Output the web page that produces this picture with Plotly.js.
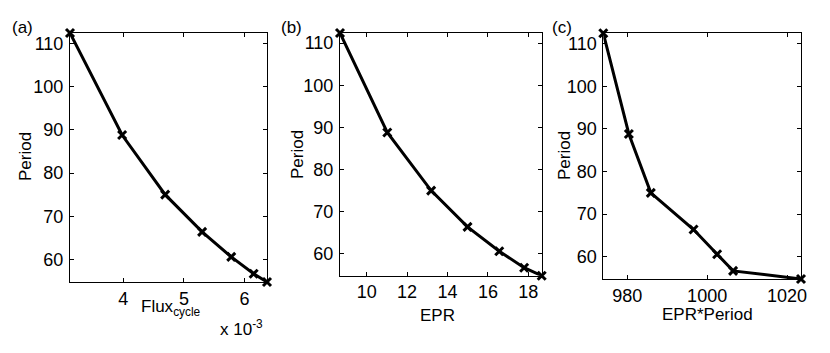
<!DOCTYPE html>
<html>
<head>
<meta charset="utf-8">
<script src="https://cdn.plot.ly/plotly-3.0.1.min.js"></script>
<style>
  html, body { margin: 0; padding: 0; background: #fff; }
  #fig { width: 830px; height: 353px; }
</style>
</head>
<body>
<div id="fig"></div>
<script>
// values
var period    = [112.4, 88.8, 75.0, 66.4, 60.6, 56.7, 54.8];
var fluxCycle = [0.00312, 0.00398, 0.00469, 0.00530, 0.00578, 0.00615, 0.00637];
var epr       = [8.68, 11.02, 13.19, 14.99, 16.56, 17.79, 18.66];
var eprPeriod = [974.0, 980.4, 985.9, 996.6, 1002.5, 1006.5, 1023.5];

var periodTicks = [60, 70, 80, 90, 100, 110];
var fluxTickVals = [0.004, 0.005, 0.006];
var fluxTickText = ['4', '5', '6'];
var eprTicks = [10, 12, 14, 16, 18];
var eprPeriodTicks = [980, 1000, 1020];

function tight(a) { return [Math.min.apply(null, a), Math.max.apply(null, a)]; }

function series(x, xa, ya) {
  return {
    x: x, y: period, xaxis: xa, yaxis: ya,
    type: 'scatter', mode: 'lines+markers',
    cliponaxis: false,
    line: {color: '#000', width: 3},
    marker: {symbol: 'x-thin-open', size: 8, color: '#000', line: {color: '#000', width: 3}},
    showlegend: false, hoverinfo: 'none'
  };
}

var data = [
  series(fluxCycle, 'x', 'y'),
  series(epr, 'x2', 'y2'),
  series(eprPeriod, 'x3', 'y3')
];

var tickFont = {family: 'Liberation Sans, Arial, sans-serif', size: 18, color: '#000'};

function xax(dom, anchor, range, vals, text) {
  var a = {
    domain: dom, anchor: anchor, range: range,
    tickmode: 'array', tickvals: vals,
    ticks: 'inside', ticklen: 4, tickwidth: 1, tickcolor: '#000',
    showline: true, linecolor: '#000', linewidth: 1, mirror: 'ticks',
    showgrid: false, zeroline: false, tickfont: tickFont,
    ticklabelstandoff: 0
  };
  if (text) a.ticktext = text;
  return a;
}
function yax(dom, anchor, range) {
  return {
    domain: dom, anchor: anchor, range: range,
    tickmode: 'array', tickvals: periodTicks,
    ticks: 'inside', ticklen: 4, tickwidth: 1, tickcolor: '#000',
    showline: true, linecolor: '#000', linewidth: 1, mirror: 'ticks',
    showgrid: false, zeroline: false, tickfont: tickFont,
    ticklabelstandoff: 2
  };
}

var W = 830, H = 353;
function px(v) { return v / W; }
function py(v) { return 1 - v / H; }

var titleFont = {family: 'Liberation Sans, Arial, sans-serif', size: 17, color: '#000'};
var panelFont = {family: 'Liberation Sans, Arial, sans-serif', size: 17, color: '#000'};

function note(text, x, y, font, extra) {
  var a = {text: text, x: px(x), y: py(y), xref: 'paper', yref: 'paper',
           showarrow: false, xanchor: 'center', yanchor: 'middle', font: font};
  for (var k in extra) a[k] = extra[k];
  return a;
}

var layout = {
  width: W, height: H,
  margin: {l: 0, r: 0, t: 0, b: 0},
  paper_bgcolor: '#fff', plot_bgcolor: '#fff',
  font: tickFont,
  xaxis:  xax([px(70), px(267)], 'y', tight(fluxCycle), fluxTickVals, fluxTickText),
  yaxis:  yax([py(282), py(33)], 'x', tight(period)),
  xaxis2: xax([px(340), px(541.7)], 'y2', tight(epr), eprTicks),
  yaxis2: yax([py(275.7), py(33)], 'x2', tight(period)),
  xaxis3: xax([px(603.3), px(801)], 'y3', tight(eprPeriod), eprPeriodTicks),
  yaxis3: yax([py(279), py(33.3)], 'x3', tight(period)),
  annotations: [
    note('(a)', 22, 27, panelFont),
    note('(b)', 291, 27, panelFont),
    note('(c)', 562, 27, panelFont),
    note('Period', 25, 157, titleFont, {textangle: -90}),
    note('Period', 297, 155, titleFont, {textangle: -90}),
    note('Period', 564, 156, titleFont, {textangle: -90}),
    note('Flux<sub>cycle</sub>', 171, 308, titleFont),
    note('x 10<sup>-3</sup>', 241, 328, titleFont),
    note('EPR', 437, 315, titleFont),
    note('EPR*Period', 707, 314, titleFont)
  ]
};

Plotly.newPlot('fig', data, layout, {displayModeBar: false, staticPlot: true});
</script>
</body>
</html>
